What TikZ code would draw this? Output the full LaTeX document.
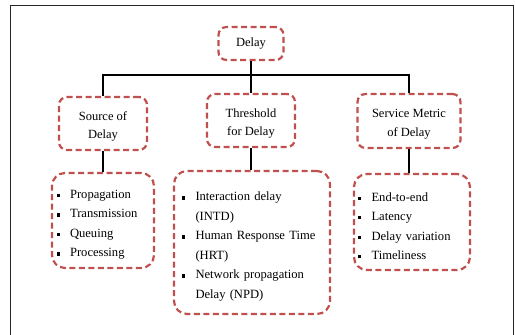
\documentclass[tikz,border=0pt]{standalone}
\usepackage{fontspec}
\setmainfont{Liberation Serif}
\definecolor{boxred}{HTML}{C0504D}
\newcommand{\blt}{\makebox[13.5pt][l]{\rule[1.3pt]{3.2pt}{3.2pt}}}
\newcommand{\ind}{\hspace*{13.5pt}}
\newcommand{\lstrut}{\rule{0pt}{17pt}}
\newcommand{\hstrut}{\rule{0pt}{15pt}}
\tikzset{
  dbox/.style={draw=boxred, line width=2.2pt, dash pattern=on 6pt off 3.5pt,
    rounded corners=8pt, align=center, inner sep=0pt,
    font=\fontsize{12.5}{18.5}\selectfont},
  lbox/.style={draw=boxred, line width=2.2pt, dash pattern=on 6pt off 3.5pt,
    rounded corners=13pt, align=left, inner ysep=0pt,
    font=\fontsize{12.6}{19.5}\selectfont},
  conn/.style={draw=black, line width=1.6pt},
}
\begin{document}
\begin{tikzpicture}[x=1pt,y=-1pt]
\useasboundingbox (0,0) rectangle (515,335);
\draw[line width=0.9pt, black!85] (10,335) -- (10,5) -- (513,5) -- (513,335);

\node[dbox, minimum width=65pt, minimum height=33pt] (delay) at (251,43.5) {Delay};
\node[dbox, minimum width=88pt, minimum height=53pt] (src) at (103,123.5) {\hstrut Source of\\Delay};
\node[dbox, minimum width=88pt, minimum height=53pt] (thr) at (251,120.5) {\hstrut Threshold\\for Delay};
\node[dbox, minimum width=103pt, minimum height=54pt] (svc) at (409,121) {\hstrut Service Metric\\of Delay};

\node[lbox, minimum width=102pt, minimum height=95pt, text width=93pt, inner xsep=4.5pt] (l1) at (103,220.5)
  {\lstrut\blt Propagation\\ \blt Transmission\\ \blt Queuing\\ \blt Processing};
\node[lbox, minimum width=156pt, minimum height=143pt, text width=140pt, inner xsep=8pt] (l2) at (252,242.5)
  {\lstrut\blt Interaction delay\\ \ind (INTD)\\ \blt Human Response Time\\ \ind (HRT)\\ \blt Network propagation\\ \ind Delay (NPD)};
\node[lbox, minimum width=116pt, minimum height=96pt, text width=108pt, inner xsep=4pt] (l3) at (412,222)
  {\lstrut\blt End-to-end\\ \blt Latency\\ \blt Delay variation\\ \blt Timeliness};

\coordinate (bus) at (251,75);
\draw[conn] (delay.south) -- (bus);
\draw[conn] (src.north) |- (bus) -| (svc.north);
\draw[conn] (bus) -- (thr.north);
\draw[conn] (src.south) -- (l1.north);
\draw[conn] (thr.south) -- (thr.south |- l2.north);
\draw[conn] (svc.south) -- (svc.south |- l3.north);
\end{tikzpicture}
\end{document}
